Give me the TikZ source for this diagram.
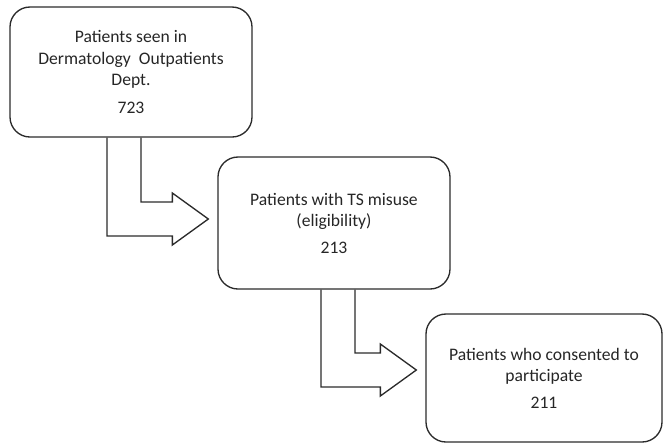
\documentclass[tikz,border=0pt]{standalone}
\usepackage{fontspec}
\setmainfont{Carlito}
\definecolor{fLine}{HTML}{2B2B2B}
\definecolor{fText}{HTML}{262626}
\usetikzlibrary{calc}
\tikzset{
  stagebox/.style={draw=fLine, line width=1pt, rounded corners=15pt, align=center,
    font=\fontsize{13.2}{16}\selectfont, text=fText, inner sep=0pt},
  flowarrow/.style={draw=fLine, line width=1pt, line join=miter}
}
% #1 source node, #2 target node, #3 x offset of shaft, #4 y offset of tip
\newcommand{\bentarrow}[4]{%
\coordinate (#1-tip) at ($(#2.west)+(-9,#4)$);
\draw[flowarrow] ($(#1.south)+(#3,0)$) |- ($(#1-tip)+(-36,17)$) -- ++(0,9) -- (#1-tip)
  -- ++(-36,-26) -- ++(0,9) -| ($(#1.south)+(#3+34,0)$);}

\begin{document}
\begin{tikzpicture}[x=0.75pt,y=-0.75pt]
\useasboundingbox (0,0) rectangle (664,444);
\node[stagebox, minimum width=242*0.75pt, minimum height=130*0.75pt] (seen) at (131,72)
  {Patients seen in\\Dermatology\ \ Outpatients\\Dept.\\[5pt]723};
\node[stagebox, minimum width=232*0.75pt, minimum height=132*0.75pt] (misuse) at (334,223)
  {Patients with TS misuse\\(eligibility)\\[4pt]213};
\node[stagebox, minimum width=236*0.75pt, minimum height=128*0.75pt] (consent) at (544,378)
  {Patients who consented to\\participate\\[4pt]211};
\bentarrow{seen}{misuse}{-24}{-4}
\bentarrow{misuse}{consent}{-13}{-8}
\end{tikzpicture}
\end{document}
